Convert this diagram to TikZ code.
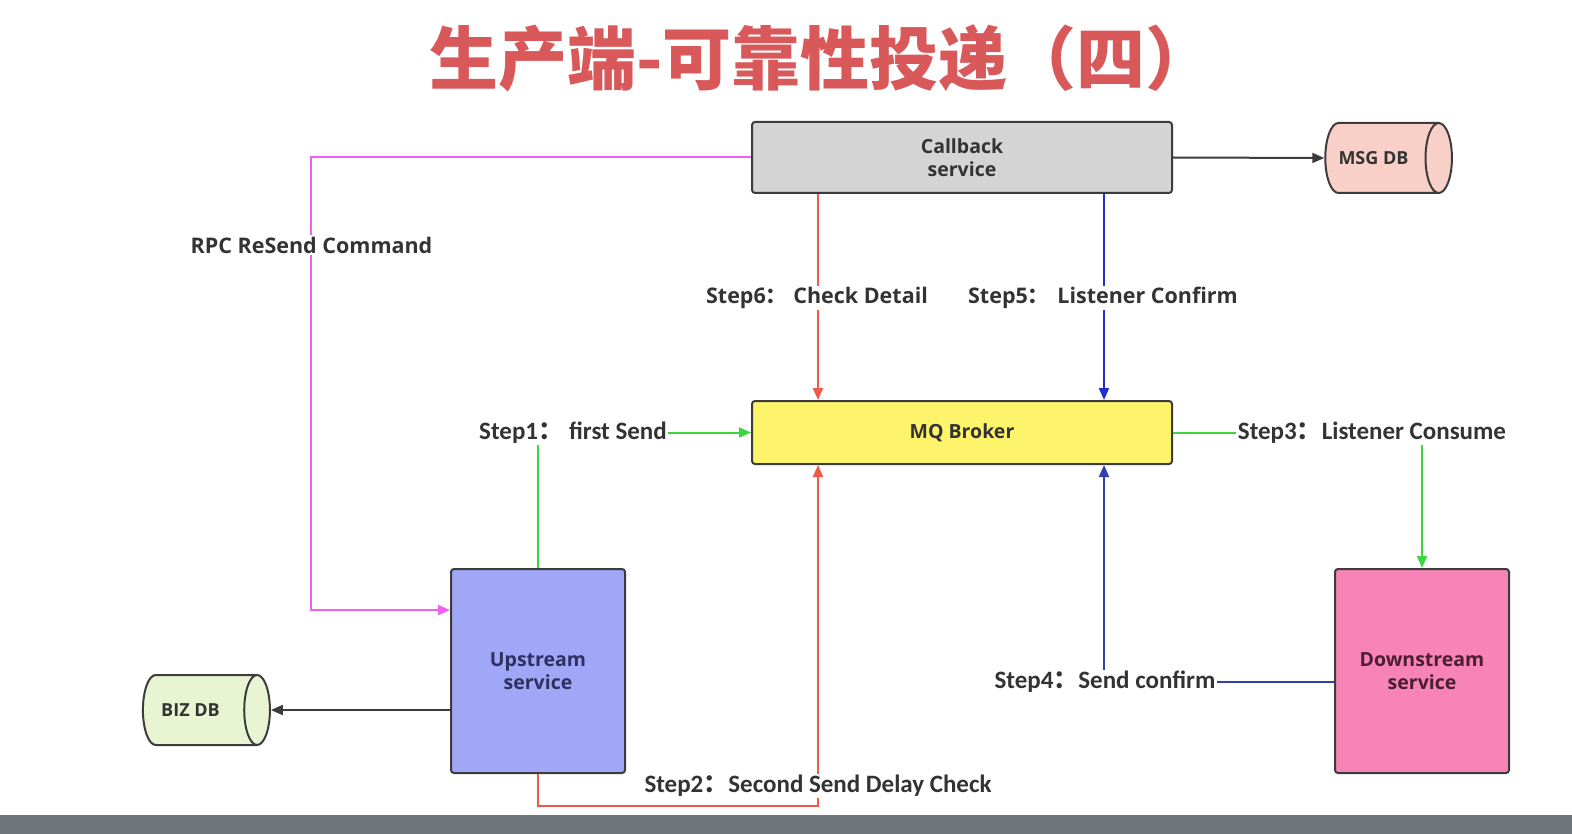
\documentclass[tikz,border=0pt]{standalone}
\usepackage{fontspec}
\setmainfont{Open Sans}
\newfontfamily\cjk{Noto Sans CJK SC}
\newfontfamily\stepfont{Carlito}
\usetikzlibrary{arrows.meta,shapes.geometric}
\definecolor{titlered}{HTML}{D9585A}
\definecolor{boxgray}{HTML}{D4D4D4}
\definecolor{msgfill}{HTML}{F9D0C8}
\definecolor{mqfill}{HTML}{FDF46C}
\definecolor{upfill}{HTML}{A0A7F7}
\definecolor{dnfill}{HTML}{F883B6}
\definecolor{bizfill}{HTML}{E9F5D2}
\definecolor{edge}{HTML}{3C3C3C}
\definecolor{txt}{HTML}{333333}
\definecolor{uptxt}{HTML}{2E3160}
\definecolor{dntxt}{HTML}{4A1F33}
\definecolor{pinkline}{HTML}{F060F0}
\definecolor{greenline}{HTML}{3ED63E}
\definecolor{redline}{HTML}{EE5A48}
\definecolor{blueline}{HTML}{2030C8}
\definecolor{blueline2}{HTML}{3040B0}
\definecolor{barcol}{HTML}{6E757B}
\tikzset{
  box/.style={draw=edge, line width=2pt, rounded corners=3pt, inner sep=0pt, align=center,
    text=txt, font=\bfseries\fontsize{19.5}{23}\selectfont},
  db/.style={cylinder, shape border rotate=0, draw=edge, line width=2pt, aspect=2,
    inner sep=0pt, text=txt, font=\bfseries\fontsize{18}{21}\selectfont},
  lbl/.style={fill=white, inner sep=1.5pt, text=txt, font=\bfseries\fontsize{21.5}{25}\selectfont},
  slbl/.style={fill=white, inner sep=1.5pt, text=txt, font=\stepfont\bfseries\fontsize{25}{29}\selectfont},
  conn/.style={line width=2pt},
  tip/.style={-{Triangle[length=12pt,width=10pt]}},
}
\newcommand{\fc}{{\cjk ：}}
\begin{document}
\begin{tikzpicture}[x=1pt,y=-1pt]
\useasboundingbox (0,0) rectangle (1572,834);
\fill[white] (0,0) rectangle (1572,834);
\fill[barcol] (0,815) rectangle (1572,834);
% title
\node[text=titlered, font=\cjk\bfseries\fontsize{69}{72}\selectfont] (title) at (822,58) {生产端-可靠性投递（四）};
% boxes
\node[box, fill=boxgray, minimum width=420pt, minimum height=71pt] (cb) at (962,157.5) {Callback\\service};
\node[box, fill=mqfill, minimum width=420pt, minimum height=63pt] (mq) at (962,432.5) {MQ Broker};
\node[box, fill=upfill, minimum width=174pt, minimum height=204pt, text=uptxt] (up) at (538,671) {Upstream\\service};
\node[box, fill=dnfill, minimum width=174pt, minimum height=204pt, text=dntxt] (dn) at (1422,671) {Downstream\\service};
\node[db, fill=msgfill, minimum width=70pt, minimum height=125pt] (msg) at (1381.5,158) {MSG DB\hspace*{16pt}};
\node[db, fill=bizfill, minimum width=70pt, minimum height=127pt] (biz) at (199.5,710) {BIZ DB\hspace*{18pt}};
% helper coordinates
\coordinate (xr) at (818,0);
\coordinate (xb) at (1104,0);
\coordinate (yb) at (0,806);
\coordinate (y4) at (0,682);
\coordinate (p1) at (311,157.5);
\coordinate (p2) at (311,610);
% black arrows
\draw[conn, edge, tip] (cb.east) -- (msg.west);
\draw[conn, edge, tip] (up.west |- biz.east) -- (biz.east);
% pink RPC
\draw[conn, pinkline, tip] (cb.west) -- (p1) -- (p2) -- (p2 -| up.west);
\node[lbl] (rpc) at (311.5,245) {RPC ReSend Command};
% step1 green
\draw[conn, greenline, tip] (up.north) -- (up.north |- mq.west) -- (mq.west);
\node[slbl] (s1) at (573,433) {Step1\fc\hspace{6pt}first Send};
% step3 green
\draw[conn, greenline, tip] (mq.east) -- (mq.east -| dn.north) -- (dn.north);
\node[slbl] (s3) at (1372,433) {Step3\fc Listener Consume};
% step6 red
\draw[conn, redline, tip] (cb.south -| xr) -- (mq.north -| xr);
\node[lbl] (s6) at (817,298) {Step6\fc\hspace{6pt}Check Detail};
% step2 red
\draw[conn, redline, tip] (up.south) -- (up.south |- yb) -- (yb -| xr) -- (mq.south -| xr);
\node[slbl] (s2) at (818,786) {Step2\fc Second Send Delay Check};
% step5 blue
\draw[conn, blueline, tip] (cb.south -| xb) -- (mq.north -| xb);
\node[lbl] (s5) at (1103,298) {Step5\fc\hspace{8pt}Listener Confirm};
% step4 blue
\draw[conn, blueline2, tip] (dn.west |- y4) -- (y4 -| xb) -- (mq.south -| xb);
\node[slbl] (s4) at (1105,682) {Step4\fc Send confirm};
\end{tikzpicture}
\end{document}
